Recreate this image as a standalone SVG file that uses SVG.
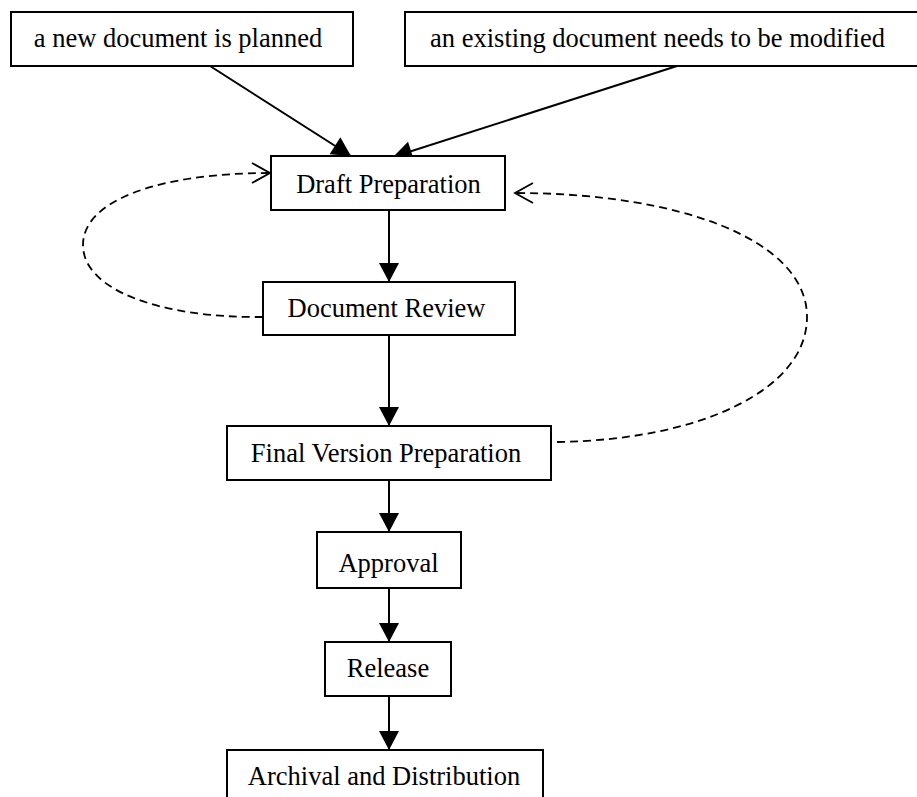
<svg xmlns="http://www.w3.org/2000/svg" width="917" height="797" viewBox="0 0 917 797">
<style>
.box{fill:#fff;stroke:#000;stroke-width:2}
.lbl{font-family:"Liberation Serif","Times New Roman",serif;font-size:26.5px;fill:#000;text-anchor:middle}
.edge{fill:none;stroke:#000;stroke-width:2}
.dash{fill:none;stroke:#000;stroke-width:1.8;stroke-dasharray:8,5}
</style>
<defs>
<marker id="solid" markerUnits="userSpaceOnUse" markerWidth="24" markerHeight="24" viewBox="-20 -12 24 24" refX="0" refY="0" orient="auto">
<path d="M-19,-10 L0,0 L-19,10 Z" fill="#000"/>
</marker>
<marker id="open" markerUnits="userSpaceOnUse" markerWidth="26" markerHeight="26" viewBox="-22 -13 26 26" refX="0" refY="0" orient="auto">
<path d="M-18,-10 L0,0 L-18,10" fill="none" stroke="#000" stroke-width="1.8"/>
</marker>
</defs>
<rect width="917" height="797" fill="#fff"/>
<g id="connectors">
<line class="edge" x1="210" y1="66" x2="351" y2="156" marker-end="url(#solid)"/>
<line class="edge" x1="677" y1="66" x2="393" y2="157" marker-end="url(#solid)"/>
<line class="edge" x1="389" y1="210" x2="389" y2="282" marker-end="url(#solid)"/>
<line class="edge" x1="389" y1="335" x2="389" y2="426" marker-end="url(#solid)"/>
<line class="edge" x1="389" y1="480" x2="389" y2="532" marker-end="url(#solid)"/>
<line class="edge" x1="389" y1="588" x2="389" y2="642" marker-end="url(#solid)"/>
<line class="edge" x1="389" y1="696" x2="389" y2="750" marker-end="url(#solid)"/>
<path class="dash" d="M263,317 C160,318 83,290 83,245 C83,200 160,173 270,173" marker-end="url(#open)"/>
<path class="dash" d="M557,442 C700,440 807,390 807,317 C807,240 680,193 515,193" marker-end="url(#open)"/>
</g>
<g id="new-document">
<rect class="box" x="11" y="12" width="342" height="54"/>
<text class="lbl" x="178" y="47">a new document is planned</text>
</g>
<g id="existing-document">
<rect class="box" x="405" y="12" width="514" height="54"/>
<text class="lbl" x="657.5" y="47">an existing document needs to be modified</text>
</g>
<g id="draft-preparation">
<rect class="box" x="271" y="156" width="234" height="54"/>
<text class="lbl" x="388.5" y="193">Draft Preparation</text>
</g>
<g id="document-review">
<rect class="box" x="263" y="282" width="252" height="53"/>
<text class="lbl" x="386.5" y="317">Document Review</text>
</g>
<g id="final-version">
<rect class="box" x="227" y="426" width="324" height="54"/>
<text class="lbl" x="386" y="462">Final Version Preparation</text>
</g>
<g id="approval">
<rect class="box" x="317" y="532" width="144" height="56"/>
<text class="lbl" x="388.5" y="572">Approval</text>
</g>
<g id="release">
<rect class="box" x="325" y="642" width="126" height="54"/>
<text class="lbl" x="388" y="677">Release</text>
</g>
<g id="archival">
<rect class="box" x="227" y="750" width="316" height="60"/>
<text class="lbl" x="384" y="785">Archival and Distribution</text>
</g>
</svg>
